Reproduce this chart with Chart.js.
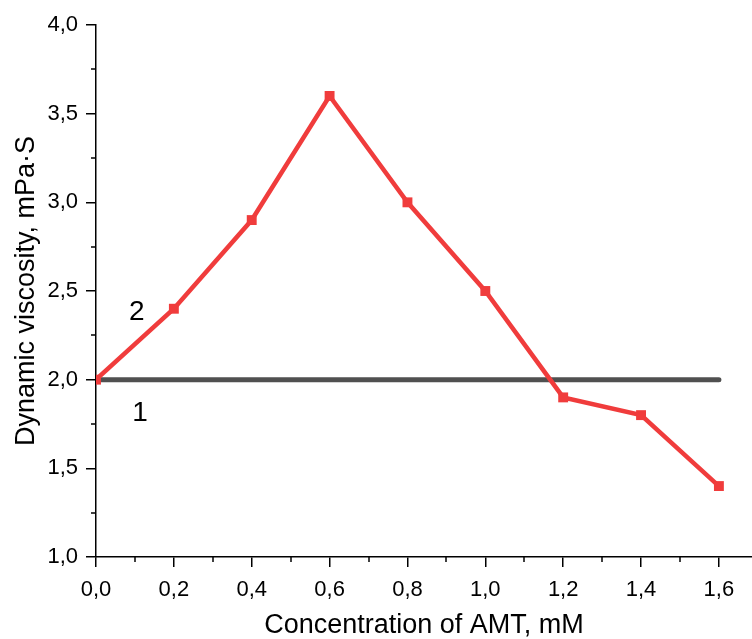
<!DOCTYPE html>
<html>
<head>
<meta charset="utf-8">
<script src="https://cdn.jsdelivr.net/npm/chart.js@4.4.1/dist/chart.umd.min.js"></script>
<style>
  html, body { margin: 0; padding: 0; background: #fff; }
  #wrap { width: 752px; height: 639px; }
</style>
</head>
<body>
<div id="wrap"><canvas id="viscosityChart" width="752" height="639"></canvas></div>
<script>
// concentration (mM) and viscosity (mPa·S)
const concentracion = [0.0, 0.2, 0.4, 0.6, 0.8, 1.0, 1.2, 1.4, 1.6];
const viscosidadAMT = [2.0, 2.4, 2.9, 3.6, 3.0, 2.5, 1.9, 1.8, 1.4];
const baseX = [0.0, 1.6];
const baseY = [2.0, 2.0];
const etiquetas = [
  { text: '2', x: 0.105, y: 2.38 },
  { text: '1', x: 0.113, y: 1.81 }
];
const minorX = [0.1, 0.3, 0.5, 0.7, 0.9, 1.1, 1.3, 1.5];
const minorY = [1.25, 1.75, 2.25, 2.75, 3.25, 3.75];

const fuente = "Arial, 'Liberation Sans', sans-serif";
const coma = v => Number(v).toFixed(1).replace('.', ',');

// minor ticks + curve labels
const extras = {
  id: 'extras',
  afterDraw(chart) {
    const ctx = chart.ctx;
    const sx = chart.scales.x, sy = chart.scales.y;
    const area = chart.chartArea;
    ctx.save();
    ctx.strokeStyle = '#000';
    ctx.lineWidth = 1.5;
    minorX.forEach(v => {
      const px = Math.round(sx.getPixelForValue(v));
      ctx.beginPath();
      ctx.moveTo(px, area.bottom);
      ctx.lineTo(px, area.bottom + 5);
      ctx.stroke();
    });
    minorY.forEach(v => {
      const py = Math.round(sy.getPixelForValue(v));
      ctx.beginPath();
      ctx.moveTo(area.left, py);
      ctx.lineTo(area.left - 5, py);
      ctx.stroke();
    });
    ctx.fillStyle = '#000';
    ctx.font = '28px ' + fuente;
    ctx.textAlign = 'center';
    ctx.textBaseline = 'middle';
    etiquetas.forEach(e => {
      ctx.fillText(e.text, sx.getPixelForValue(e.x), sy.getPixelForValue(e.y));
    });
    ctx.restore();
  }
};

const ctx = document.getElementById('viscosityChart').getContext('2d');
new Chart(ctx, {
  type: 'line',
  data: {
    datasets: [
      {
        label: '1',
        data: baseX.map((x, i) => ({ x: x, y: baseY[i] })),
        borderColor: '#505050',
        borderWidth: 5,
        borderCapStyle: 'round',
        pointRadius: 0,
        order: 2
      },
      {
        label: '2',
        data: concentracion.map((x, i) => ({ x: x, y: viscosidadAMT[i] })),
        borderColor: 'rgb(240, 60, 60)',
        backgroundColor: 'rgb(240, 60, 60)',
        borderWidth: 4.5,
        pointStyle: 'rect',
        pointRadius: 7,
        pointBorderWidth: 0,
        tension: 0,
        order: 1
      }
    ]
  },
  options: {
    responsive: false,
    animation: false,
    layout: { autoPadding: false, padding: { top: 25, right: 0, left: 0, bottom: 0 } },
    plugins: { legend: { display: false }, tooltip: { enabled: false } },
    scales: {
      x: {
        type: 'linear',
        min: 0,
        max: 1.685,
        afterFit: s => { s.height = 82; s.paddingLeft = 0; s.paddingRight = 0; },
        border: { display: true, color: '#000', width: 1.5 },
        grid: { display: true, drawOnChartArea: false, drawTicks: true, tickLength: 10, color: '#000', lineWidth: 1.5 },
        ticks: {
          stepSize: 0.2,
          includeBounds: false,
          padding: 10,
          color: '#000',
          font: { family: fuente, size: 22 },
          maxRotation: 0,
          callback: v => coma(v)
        },
        title: {
          display: true,
          text: 'Concentration of AMT, mM',
          color: '#000',
          font: { family: fuente, size: 27, lineHeight: 1 },
          padding: { top: 0, bottom: 0 }
        }
      },
      y: {
        type: 'linear',
        min: 1,
        max: 4,
        afterFit: s => { s.width = 96; s.paddingTop = 0; s.paddingBottom = 0; },
        border: { display: true, color: '#000', width: 1.5 },
        grid: { display: true, drawOnChartArea: false, drawTicks: true, tickLength: 10, color: '#000', lineWidth: 1.5 },
        ticks: {
          stepSize: 0.5,
          padding: 8,
          color: '#000',
          font: { family: fuente, size: 22 },
          callback: v => coma(v)
        },
        title: {
          display: true,
          text: 'Dynamic viscosity, mPa·S',
          color: '#000',
          font: { family: fuente, size: 27, lineHeight: 1 },
          padding: { top: 13, bottom: 0 }
        }
      }
    }
  },
  plugins: [extras]
});
</script>
</body>
</html>
